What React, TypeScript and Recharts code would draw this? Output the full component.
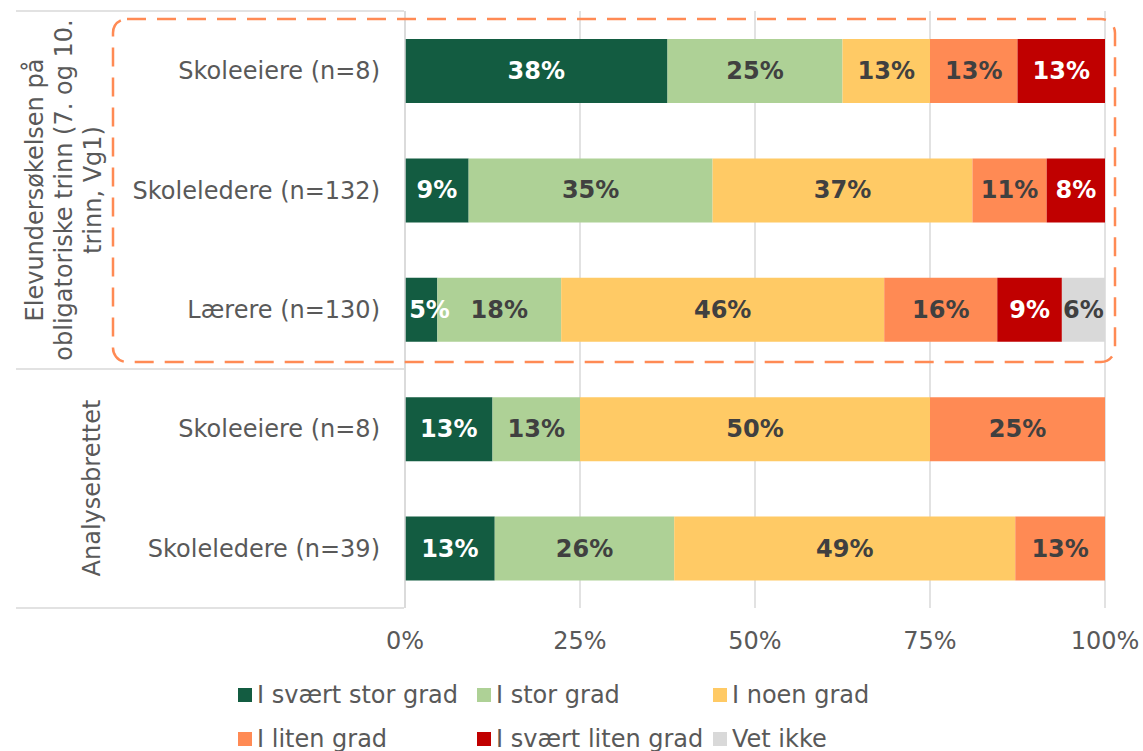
import React from 'react';
import { BarChart, Bar, XAxis, YAxis, CartesianGrid, LabelList } from 'recharts';

const categories = [
  'Skoleeiere (n=8)',
  'Skoleledere (n=132)',
  'Lærere (n=130)',
  'Skoleeiere (n=8)',
  'Skoleledere (n=39)',
];

// andeler i prosent, lest av figuren
const iSvaertStorGrad = [37.5, 9.09, 4.62, 12.5, 12.82];
const iStorGrad = [25, 34.85, 17.69, 12.5, 25.64];
const iNoenGrad = [12.5, 37.12, 46.15, 50, 48.72];
const iLitenGrad = [12.5, 10.61, 16.15, 25, 12.82];
const iSvaertLitenGrad = [12.5, 8.33, 9.23, 0, 0];
const vetIkke = [0, 0, 6.15, 0, 0];

const xTicks = [0, 25, 50, 75, 100];

const seriesNames = [
  'I svært stor grad',
  'I stor grad',
  'I noen grad',
  'I liten grad',
  'I svært liten grad',
  'Vet ikke',
];
const seriesKeys = ['s0', 's1', 's2', 's3', 's4', 's5'];
const seriesColors = ['#135C41', '#AED196', '#FFCA65', '#FF8A54', '#C00000', '#D9D9D9'];
const labelColors = ['#FFFFFF', '#404040', '#404040', '#404040', '#FFFFFF', '#404040'];

const groupLabels = [
  ['Elevundersøkelsen på', 'obligatoriske trinn (7. og 10.', 'trinn, Vg1)'],
  ['Analysebrettet'],
];

const allSeries = [iSvaertStorGrad, iStorGrad, iNoenGrad, iLitenGrad, iSvaertLitenGrad, vetIkke];

const data = categories.map((name, i) => {
  const row: Record<string, any> = { name };
  seriesKeys.forEach((k, s) => {
    row[k] = allSeries[s][i];
  });
  return row;
});

const FONT = '"DejaVu Sans", Verdana, sans-serif';
const TEXT = '#595959';
const LINE = '#D9D9D9';

// etikett midt i segmentet; første serie skyves inn i plottet hvis den er for smal
const makeLabel = (s: number) => (props: any) => {
  const { x, y, width, height, value } = props;
  if (!value || value <= 0) return null;
  const txt = `${Math.round(value)}%`;
  const w = txt.length === 2 ? 41 : 57;
  let cx = x + width / 2;
  if (s === 0) cx = Math.max(cx, x + 4 + w / 2);
  return (
    <text
      x={cx}
      y={y + height / 2}
      textAnchor="middle"
      dominantBaseline="central"
      fill={labelColors[s]}
      style={{ fontSize: 24, fontWeight: 'bold', fontFamily: FONT }}
    >
      {txt}
    </text>
  );
};

const App: React.FC = () => {
  return (
    <div style={{ position: 'absolute', left: 0, top: 0, width: 1143, height: 751, fontFamily: FONT }}>
      <BarChart
        width={1143}
        height={751}
        data={data}
        layout="vertical"
        margin={{ top: 11, right: 38, left: 0, bottom: 103 }}
        barSize={64}
      >
        <CartesianGrid horizontal={false} stroke={LINE} strokeWidth={1.5} />
        <XAxis
          type="number"
          domain={[0, 100]}
          ticks={xTicks}
          tickFormatter={(v) => `${v}%`}
          axisLine={false}
          tickLine={false}
          tickSize={0}
          tickMargin={24}
          height={40}
          tick={{ fontSize: 24, fill: TEXT, fontFamily: FONT }}
        />
        <YAxis
          type="category"
          dataKey="name"
          width={405}
          axisLine={{ stroke: LINE, strokeWidth: 1.5 }}
          tickLine={false}
          tickSize={0}
          tickMargin={25}
          interval={0}
          tick={{ fontSize: 24, fill: TEXT, fontFamily: FONT }}
        />
        {seriesKeys.map((k, s) => (
          <Bar
            key={k}
            dataKey={k}
            name={seriesNames[s]}
            stackId="a"
            fill={seriesColors[s]}
            isAnimationActive={false}
          >
            <LabelList dataKey={k} content={makeLabel(s)} />
          </Bar>
        ))}
      </BarChart>

      {/* gruppeetiketter og ramme */}
      <svg
        width={1143}
        height={751}
        style={{ position: 'absolute', left: 0, top: 0, pointerEvents: 'none' }}
      >
        <line x1={16} y1={11} x2={404} y2={11} stroke={LINE} strokeWidth={1.5} />
        <line x1={16} y1={369} x2={404} y2={369} stroke={LINE} strokeWidth={1.5} />
        <line x1={16} y1={608} x2={404} y2={608} stroke={LINE} strokeWidth={1.5} />
        <text
          transform="translate(43, 190) rotate(-90)"
          textAnchor="middle"
          fontSize={24}
          fill={TEXT}
          fontFamily={FONT}
        >
          {groupLabels[0].map((t, i) => (
            <tspan key={i} x={0} dy={i === 0 ? 0 : 28.8}>
              {t}
            </tspan>
          ))}
        </text>
        <text
          transform="translate(100, 488) rotate(-90)"
          textAnchor="middle"
          fontSize={24}
          fill={TEXT}
          fontFamily={FONT}
        >
          {groupLabels[1][0]}
        </text>
        <rect
          x={113}
          y={19}
          width={1002}
          height={343}
          rx={14}
          ry={14}
          fill="none"
          stroke="#FF8A54"
          strokeWidth={2.5}
          strokeDasharray="19 11"
        />
      </svg>

      {/* legende */}
      <div
        style={{
          position: 'absolute',
          left: 238,
          top: 673,
          display: 'grid',
          gridTemplateColumns: '239px 236px 240px',
          gridAutoRows: '44px',
        }}
      >
        {seriesNames.map((n, s) => (
          <div key={n} style={{ display: 'flex', alignItems: 'center', whiteSpace: 'nowrap' }}>
            <span
              style={{ display: 'inline-block', width: 14, height: 14, background: seriesColors[s], marginRight: 5 }}
            />
            <span style={{ fontSize: 24, color: TEXT, lineHeight: '44px' }}>{n}</span>
          </div>
        ))}
      </div>
    </div>
  );
};

export default App;
